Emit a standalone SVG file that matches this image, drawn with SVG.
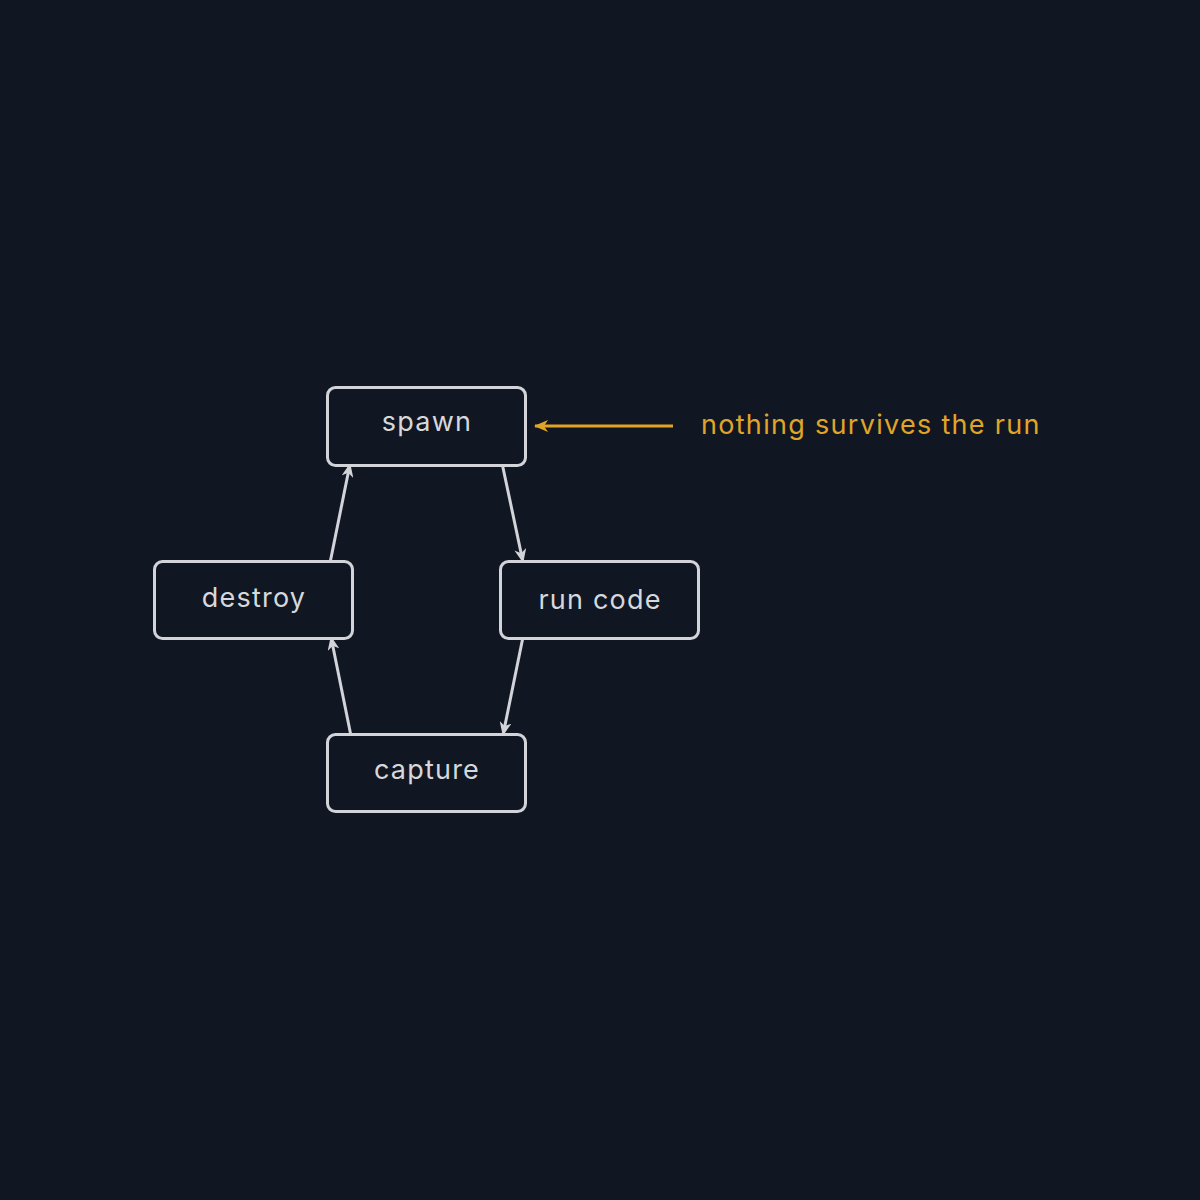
<svg xmlns="http://www.w3.org/2000/svg" width="1200" height="1200" viewBox="0 0 1200 1200">
<defs>
<style>
.box{fill:#111722;stroke:#d2d4d9;stroke-width:3}
.lbl{font-family:Inter,"Noto Sans","DejaVu Sans",sans-serif;font-size:27px;fill:#d6d8dc;text-anchor:middle;letter-spacing:1.2px}
.edge{stroke:#d2d4d9;stroke-width:3;fill:none;marker-end:url(#ah)}
.note{stroke:#e0a526;stroke-width:3;fill:none;marker-end:url(#ahy)}
.notetxt{font-family:Inter,"Noto Sans","DejaVu Sans",sans-serif;font-size:27px;fill:#e0a526;letter-spacing:1.3px}
</style>
<marker id="ah" viewBox="0 0 14 12" refX="13" refY="6" markerWidth="14" markerHeight="12" markerUnits="userSpaceOnUse" orient="auto">
<path d="M0,0 L14,6 L0,12 L4,6 z" fill="#d2d4d9"/>
</marker>
<marker id="ahy" viewBox="0 0 14 12" refX="13" refY="6" markerWidth="14" markerHeight="12" markerUnits="userSpaceOnUse" orient="auto">
<path d="M0,0 L14,6 L0,12 L4,6 z" fill="#e0a526"/>
</marker>
</defs>
<rect width="1200" height="1200" fill="#111722"/>
<g id="connectors">
<line class="edge" x1="502" y1="463" x2="523" y2="562"/>
<line class="edge" x1="523" y1="637" x2="503" y2="735"/>
<line class="edge" x1="351" y1="736" x2="331" y2="637"/>
<line class="edge" x1="330" y1="563" x2="350" y2="464"/>
<line class="note" x1="673" y1="426" x2="535" y2="426"/>
</g>
<g id="spawn">
<rect class="box" x="327.5" y="387.5" width="198" height="78" rx="8"/>
<text class="lbl" x="427" y="431">spawn</text>
</g>
<g id="run-code">
<rect class="box" x="500.5" y="561.5" width="198" height="77" rx="8"/>
<text class="lbl" x="600" y="609">run code</text>
</g>
<g id="capture">
<rect class="box" x="327.5" y="734.5" width="198" height="77" rx="8"/>
<text class="lbl" x="427" y="779">capture</text>
</g>
<g id="destroy">
<rect class="box" x="154.5" y="561.5" width="198" height="77" rx="8"/>
<text class="lbl" x="254" y="607">destroy</text>
</g>
<g id="note">
<text class="notetxt" x="701" y="434">nothing survives the run</text>
</g>
</svg>
